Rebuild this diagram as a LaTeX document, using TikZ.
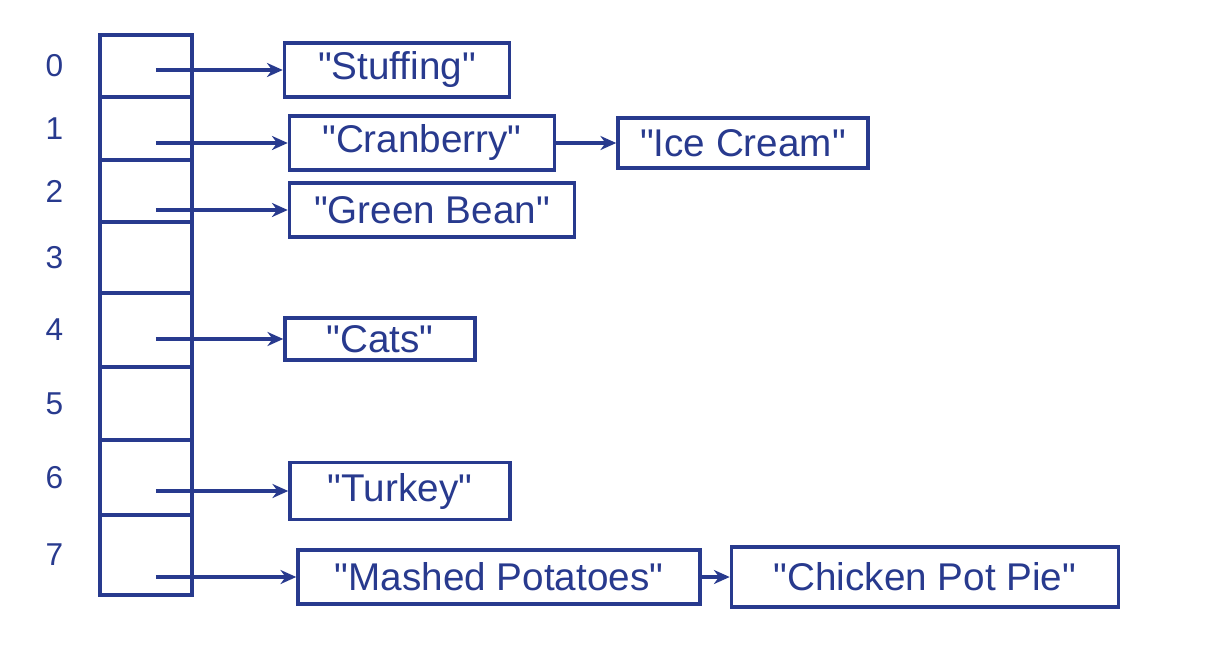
\documentclass[tikz,border=0pt]{standalone}
\usepackage{fontspec}
\setmainfont{Liberation Sans}
\usetikzlibrary{positioning,arrows.meta}
\definecolor{ink}{HTML}{283A8E}
\newcommand{\qt}[1]{\textquotedbl#1\textquotedbl}

\begin{document}
\begin{tikzpicture}[x=0.02cm,y=-0.02cm,ink,line width=2pt,>={Stealth[length=9pt,width=8pt]},
   cell/.style={draw,minimum width=1.84cm,inner sep=0pt},
   item/.style={draw,inner sep=0pt,minimum height=1.08cm,font=\fontsize{22}{26}\selectfont},
   idx/.style={font=\fontsize{18}{22}\selectfont}]
   \useasboundingbox (0,0) rectangle (1232,670);
   \foreach \i/\t/\b in {0/35/97,1/97/160,2/160/222,3/222/293,4/293/367,5/367/440,6/440/515,7/515/595}{
     \node[cell,minimum height={(\b-\t)*0.02cm}] (cell_\i) at (146,{(\t+\b)/2}) {};
     \node[idx,left=0.55cm of cell_\i] (idx_\i) {\i};
   }
   \node[item,minimum width=4.5cm] (stuffing) at (397,70) {\qt{Stuffing}};
   \node[item,minimum width=5.3cm] (cranberry) at (422,143) {\qt{Cranberry}};
   \node[item,minimum width=5cm,minimum height=1cm] (icecream) [right=1.2cm of cranberry] {\qt{Ice Cream}};
   \node[item,minimum width=5.7cm] (greenbean) at (432,210) {\qt{Green Bean}};
   \node[item,minimum width=3.8cm,minimum height=0.84cm] (cats) at (380,339) {\qt{Cats}};
   \node[item,minimum width=4.4cm,minimum height=1.14cm] (turkey) at (400,491) {\qt{Turkey}};
   \node[item,minimum width=8.04cm] (mashed) at (499,577) {\qt{Mashed Potatoes}};
   \node[item,minimum width=7.74cm,minimum height=1.2cm] (chicken) [right=0.56cm of mashed] {\qt{Chicken Pot Pie}};

   \path[->]
   ([xshift=0.2cm]cell_0.center |- stuffing.west) edge (stuffing.west)
   ([xshift=0.2cm]cell_1.center |- cranberry.west) edge (cranberry.west)
   ([xshift=0.2cm]cell_2.center |- greenbean.west) edge (greenbean.west)
   ([xshift=0.2cm]cell_4.center |- cats.west) edge (cats.west)
   ([xshift=0.2cm]cell_6.center |- turkey.west) edge (turkey.west)
   ([xshift=0.2cm]cell_7.center |- mashed.west) edge (mashed.west)
   (cranberry.east) edge (icecream.west)
   (mashed.east) edge (chicken.west);
\end{tikzpicture}
\end{document}
